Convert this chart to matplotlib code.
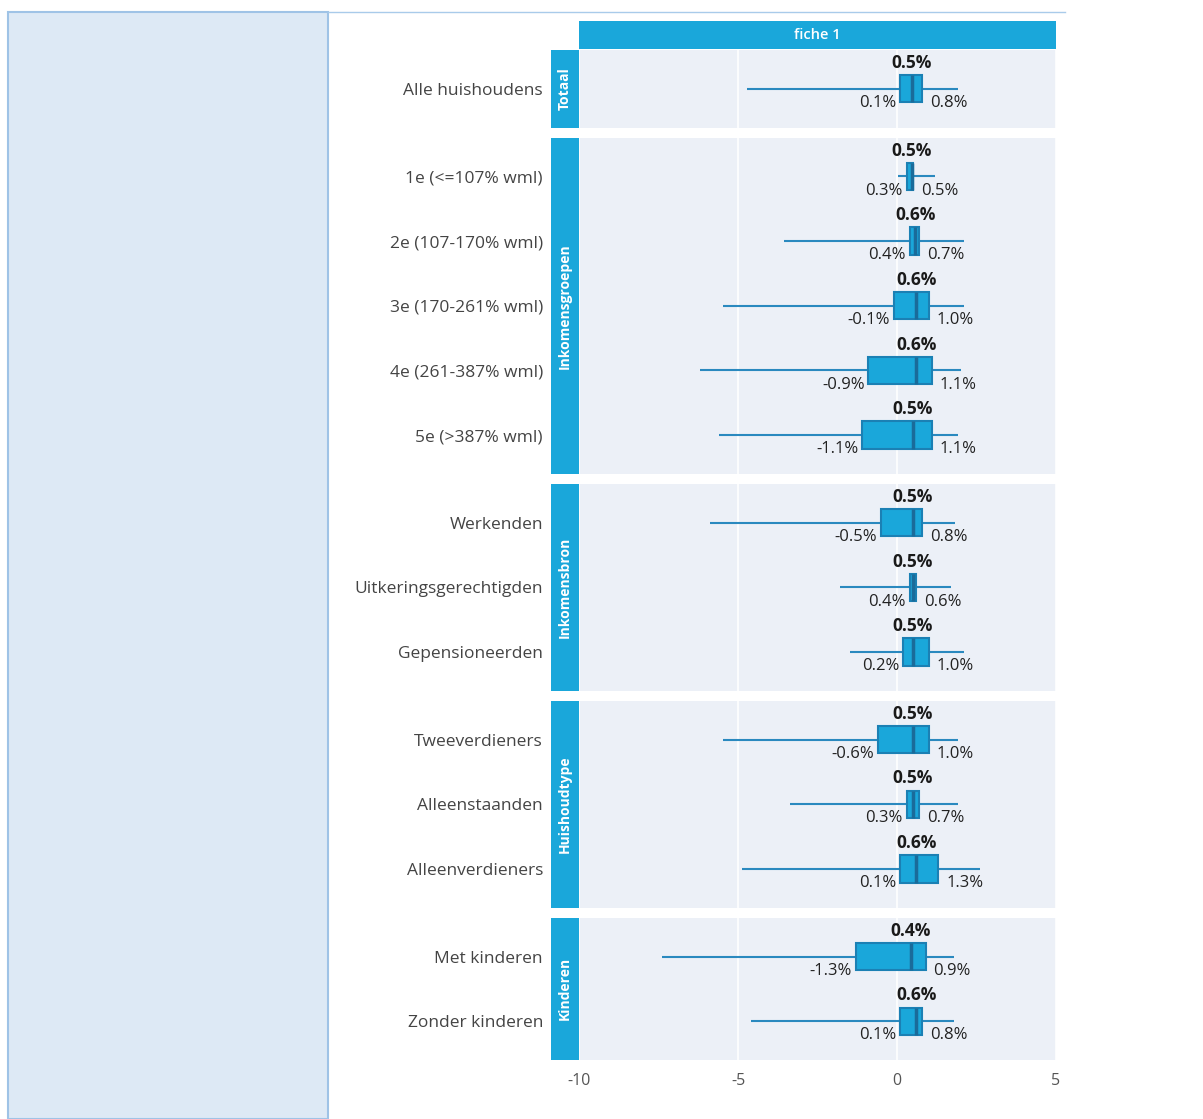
import matplotlib
matplotlib.use("Agg")
import matplotlib.pyplot as plt
from matplotlib.patches import Rectangle
from matplotlib.lines import Line2D

plt.rcParams['font.family'] = ['Open Sans', 'DejaVu Sans']
plt.rcParams['axes.unicode_minus'] = False

# ---- data ----
groups = ["Totaal", "Inkomensgroepen", "Inkomensbron", "Huishoudtype", "Kinderen"]
group_sizes = [1, 5, 3, 3, 2]
categories = ["Alle huishoudens",
              "1e (<=107% wml)", "2e (107-170% wml)", "3e (170-261% wml)",
              "4e (261-387% wml)", "5e (>387% wml)",
              "Werkenden", "Uitkeringsgerechtigden", "Gepensioneerden",
              "Tweeverdieners", "Alleenstaanden", "Alleenverdieners",
              "Met kinderen", "Zonder kinderen"]
whisk_lo = [-4.71, 0.02, -3.55, -5.47, -6.19, -5.60, -5.88, -1.79, -1.48, -5.47, -3.36, -4.87, -7.39, -4.59]
q1       = [0.1, 0.3, 0.4, -0.1, -0.9, -1.1, -0.5, 0.4, 0.2, -0.6, 0.3, 0.1, -1.3, 0.1]
median   = [0.47, 0.47, 0.57, 0.6, 0.6, 0.5, 0.5, 0.5, 0.5, 0.5, 0.5, 0.6, 0.43, 0.6]
q3       = [0.8, 0.5, 0.7, 1.0, 1.1, 1.1, 0.8, 0.6, 1.0, 1.0, 0.7, 1.3, 0.9, 0.8]
whisk_hi = [1.93, 1.20, 2.10, 2.10, 2.01, 1.92, 1.82, 1.70, 2.10, 1.92, 1.92, 2.61, 1.80, 1.80]
facet_title = "fiche 1"
xticks = [-10, -5, 0, 5]

# ---- style ----
W, H = 1203, 1119
BOX_FILL = "#1aa7da"
BOX_EDGE = "#1b80b4"
MED_COL = "#1a6b9a"
WHISK_COL = "#2a89bf"
PANEL_BG = "#ecf0f7"
STRIP_BG = "#1aa7da"
LABEL_COL = "#444444"

fig = plt.figure(figsize=(W / 100, H / 100), dpi=100)

def fr(x0, y0, x1, y1):
    return [x0 / W, 1 - y1 / H, (x1 - x0) / W, (y1 - y0) / H]

# side panel
fig.patches.append(Rectangle((8 / W, 0), (328 - 8) / W, 1 - 12 / H,
                             transform=fig.transFigure, facecolor="#dde9f5",
                             edgecolor="#9fc3e6", linewidth=1.5))
fig.lines.append(Line2D([328 / W, 1065 / W], [1 - 12 / H, 1 - 12 / H],
                        transform=fig.transFigure, color="#a9cbea", linewidth=1))

PX0, PX1 = 579, 1056
SX0 = 551
top = 50
bottom = 1060
gap = 10
units = [n - 1 + 1.2 for n in group_sizes]
ppu = (bottom - top - gap * (len(groups) - 1)) / sum(units)

# top strip
sax = fig.add_axes(fr(PX0, 21, PX1, 49))
sax.set_facecolor(STRIP_BG)
sax.set_xticks([]); sax.set_yticks([])
for s in sax.spines.values():
    s.set_visible(False)
sax.text(0.5, 0.5, facet_title, color="white", fontsize=10.5, fontweight="semibold",
         ha="center", va="center", transform=sax.transAxes)

y = top
idx = 0
axes = []
for g, n, u in zip(groups, group_sizes, units):
    h = u * ppu
    ax = fig.add_axes(fr(PX0, y, PX1, y + h))
    ax.set_facecolor(PANEL_BG)
    for s in ax.spines.values():
        s.set_visible(False)
    ax.set_xlim(xticks[0], xticks[-1])
    ax.set_ylim(n - 1 + 0.6, -0.6)
    ax.set_xticks(xticks)
    ax.grid(axis="x", color="white", linewidth=1.2)
    ax.set_axisbelow(True)
    cats = categories[idx:idx + n]
    ax.set_yticks(range(n))
    ax.set_yticklabels(cats, fontsize=12.5, color=LABEL_COL)
    ax.tick_params(axis="y", length=0, pad=26)
    ax.tick_params(axis="x", length=0, labelbottom=False)
    bh = 0.42
    for j in range(n):
        k = idx + j
        ax.hlines(j, whisk_lo[k], whisk_hi[k], color=WHISK_COL, linewidth=1.5, zorder=2)
        ax.barh(j, q3[k] - q1[k], left=q1[k], height=bh, color=BOX_FILL,
                edgecolor=BOX_EDGE, linewidth=1.5, zorder=3)
        ax.vlines(median[k], j - bh / 2, j + bh / 2, color=MED_COL, linewidth=2.5, zorder=4)
        ax.text(median[k], j - bh / 2 - 0.05, f"{median[k]:.1f}%", ha="center", va="bottom",
                fontsize=12.5, fontweight="bold", color="#1a1a1a", zorder=5)
        ax.text(q1[k] - 0.12, j + 0.22, f"{q1[k]:.1f}%", ha="right", va="center",
                fontsize=12, color="#222222", zorder=5)
        ax.text(q3[k] + 0.25, j + 0.22, f"{q3[k]:.1f}%", ha="left", va="center",
                fontsize=12, color="#222222", zorder=5)
    # side strip
    st = fig.add_axes(fr(SX0, y, PX0, y + h))
    st.set_facecolor(STRIP_BG)
    st.set_xticks([]); st.set_yticks([])
    for s in st.spines.values():
        s.set_visible(False)
    st.text(0.5, 0.5, g, rotation=90, color="white", fontsize=10, fontweight="bold",
            ha="center", va="center", transform=st.transAxes)
    axes.append(ax)
    y += h + gap
    idx += n

last = axes[-1]
last.tick_params(axis="x", labelbottom=True, labelsize=11.5, labelcolor="#555555", pad=9)

fig.savefig("out.png", dpi=100)
